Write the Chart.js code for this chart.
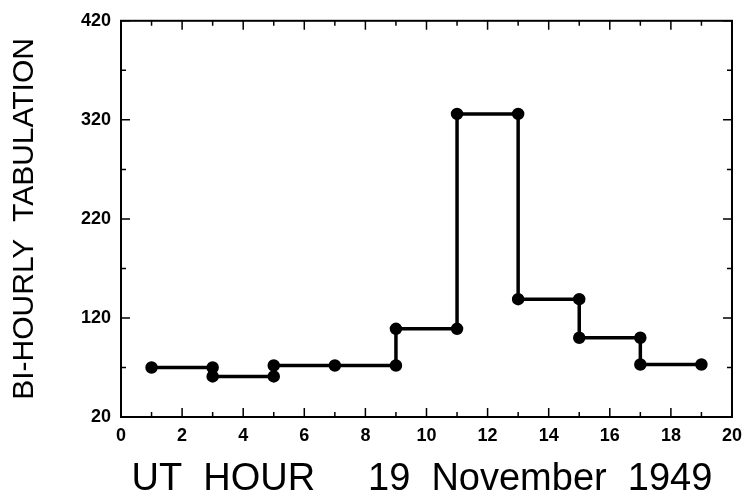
<!DOCTYPE html>
<html>
<head>
<meta charset="utf-8">
<script src="https://cdn.jsdelivr.net/npm/chart.js@4"></script>
<style>
  html, body { margin: 0; padding: 0; background: #fff; }
  #wrap { width: 750px; height: 498px; }
</style>
</head>
<body>
<div id="wrap"><canvas id="c" width="750" height="498"></canvas></div>
<script>
  // bi-hourly tabulation, each step is drawn with its two end points
  const hours  = [1, 3, 3, 5, 5, 7, 9, 9, 11, 11, 13, 13, 15, 15, 17, 17, 19];
  const counts = [70, 70, 61, 61, 72, 72, 72, 109, 109, 326, 326, 139, 139, 100, 100, 73, 73];

  const xTicks = [0, 2, 4, 6, 8, 10, 12, 14, 16, 18, 20];
  const xMinor = [1, 3, 5, 7, 9, 11, 13, 15, 17, 19];
  const yTicks = [20, 120, 220, 320, 420];
  const yMinor = [70, 170, 270, 370];

  const fam = 'Liberation Sans, Arial, sans-serif';
  const tickFont = { family: fam, size: 18, weight: 'bold' };

  // frame + inward tick marks on all four sides
  const frameTicks = {
    id: 'frameTicks',
    afterDraw(chart) {
      const { ctx, chartArea: a, scales: { x, y } } = chart;
      ctx.save();
      ctx.strokeStyle = '#000';
      ctx.lineWidth = 2;
      ctx.strokeRect(a.left, a.top, a.right - a.left, a.bottom - a.top);
      ctx.lineWidth = 1.5;
      ctx.beginPath();
      const vx = (v, len) => {
        const px = x.getPixelForValue(v);
        ctx.moveTo(px, a.bottom); ctx.lineTo(px, a.bottom - len);
        ctx.moveTo(px, a.top); ctx.lineTo(px, a.top + len);
      };
      const vy = (v, len) => {
        const py = y.getPixelForValue(v);
        ctx.moveTo(a.left, py); ctx.lineTo(a.left + len, py);
        ctx.moveTo(a.right, py); ctx.lineTo(a.right - len, py);
      };
      xTicks.forEach(v => vx(v, 9));
      xMinor.forEach(v => vx(v, 5));
      yTicks.forEach(v => vy(v, 9));
      yMinor.forEach(v => vy(v, 5));
      ctx.stroke();
      ctx.restore();
    }
  };

  new Chart(document.getElementById('c'), {
    type: 'scatter',
    data: {
      datasets: [{
        data: hours.map((h, i) => ({ x: h, y: counts[i] })),
        showLine: true,
        borderColor: '#000',
        backgroundColor: '#000',
        borderWidth: 3.5,
        pointRadius: 4.5,
        pointHoverRadius: 4.5,
        tension: 0,
      }],
    },
    options: {
      responsive: false,
      animation: false,
      events: [],
      layout: { padding: { top: 18, right: 11, left: 0, bottom: 0 } },
      plugins: { legend: { display: false }, tooltip: { enabled: false } },
      scales: {
        x: {
          type: 'linear',
          min: 0, max: 20,
          afterFit: s => { s.height = 81; },
          afterBuildTicks: s => { s.ticks = xTicks.map(v => ({ value: v })); },
          grid: { display: false, drawTicks: false },
          border: { display: false },
          ticks: { color: '#000', font: tickFont, padding: 8, maxRotation: 0, autoSkip: false },
          title: {
            display: true,
            align: 'start',
            text: ' UT  HOUR     19  November  1949',
            color: '#000',
            font: { family: fam, size: 38, lineHeight: 0.95 },
            padding: { bottom: 0 },
          },
        },
        y: {
          type: 'linear',
          min: 20, max: 420,
          afterFit: s => { s.width = 121; },
          afterBuildTicks: s => { s.ticks = yTicks.map(v => ({ value: v })); },
          grid: { display: false, drawTicks: false },
          border: { display: false },
          ticks: { color: '#000', font: tickFont, padding: 10, autoSkip: false },
          title: {
            display: true,
            text: 'BI-HOURLY  TABULATION',
            color: '#000',
            font: { family: fam, size: 30, lineHeight: 1 },
            padding: { top: 10 },
          },
        },
      },
    },
    plugins: [frameTicks],
  });
</script>
</body>
</html>
